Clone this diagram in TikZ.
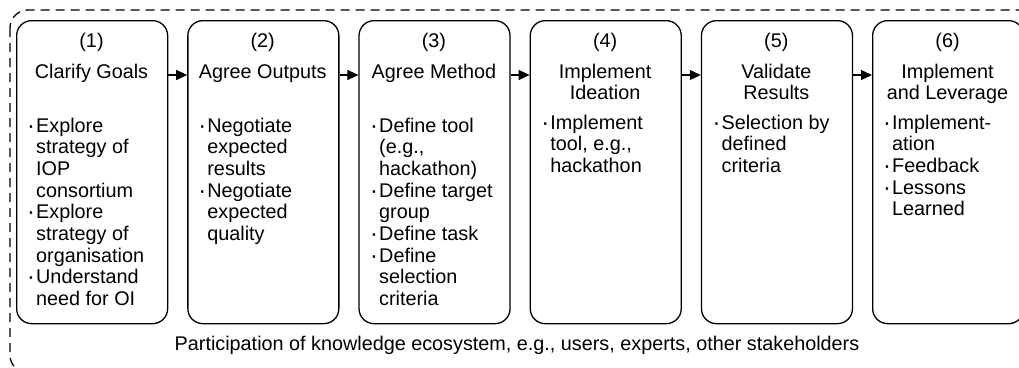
\documentclass[tikz,border=0pt]{standalone}
\usepackage{fontspec}
\setmainfont{Liberation Sans}
\usetikzlibrary{arrows.meta}

% bullet and hanging indent for the item lists
\newcommand{\bul}{\makebox[9pt][l]{\raisebox{-1pt}{\scalebox{1.2}{·}}}}
\newcommand{\ind}{\hspace*{9pt}}
\newcommand{\cellstack}[2][l]{\begin{tabular}[t]{@{}#1@{}}#2\end{tabular}}

\begin{document}
\begin{tikzpicture}[
    x=1pt, y=-1pt,
    stage/.style={draw, line width=1.3pt, rounded corners=15pt,
        minimum width=151pt, minimum height=303pt, anchor=north west, inner sep=0pt},
    txt/.style={inner sep=0pt, font=\fontsize{19.8pt}{21.7pt}\selectfont},
    head/.style={txt, anchor=base},
    list/.style={txt, anchor=base west},
    flow/.style={-{Triangle[length=11pt,width=10pt]}, line width=1.1pt}
]
\useasboundingbox (0,0) rectangle (1019,367);
\clip (0,0) rectangle (1019,367);

% Ecosystem frame
\draw[dashed, dash pattern=on 9pt off 6pt, line width=1.3pt, rounded corners=18pt]
    (10,10) rectangle (1045,373);

% Stage boxes
\foreach \i/\x in {1/16,2/187.2,3/358.4,4/529.6,5/700.8,6/872}
    \node[stage] (s\i) at (\x,20) {};

% Arrows between stages
\foreach \a/\b in {1/2,2/3,3/4,4/5,5/6}
    \draw[flow] (s\a.east |- 0,75) -- (s\b.west |- 0,75);

% Stage 1
\node[head] (num1) at (91.5,47) {(1)};
\node[head] (head1) at (91.5,78) {Clarify Goals};
\node[list] (list1) at (27,132) {\cellstack{\bul Explore\\ \ind strategy of\\ \ind IOP\\ \ind consortium\\
    \bul Explore\\ \ind strategy of\\ \ind organisation\\ \bul Understand\\ \ind need for OI}};

% Stage 2
\node[head] (num2) at (262.7,47) {(2)};
\node[head] (head2) at (262.7,78) {Agree Outputs};
\node[list] (list2) at (198.2,132) {\cellstack{\bul Negotiate\\ \ind expected\\ \ind results\\
    \bul Negotiate\\ \ind expected\\ \ind quality}};

% Stage 3
\node[head] (num3) at (433.9,47) {(3)};
\node[head] (head3) at (433.9,78) {Agree Method};
\node[list] (list3) at (370,132) {\cellstack{\bul Define tool\\ \ind (e.g.,\\ \ind hackathon)\\
    \bul Define target\\ \ind group\\ \bul Define task\\ \bul Define\\ \ind selection\\ \ind criteria}};

% Stage 4
\node[head] (num4) at (605.1,47) {(4)};
\node[head] (head4) at (605.1,78) {\cellstack[c]{Implement\\ Ideation}};
\node[list] (list4) at (541.2,129) {\cellstack{\bul Implement\\ \ind tool, e.g.,\\ \ind hackathon}};

% Stage 5
\node[head] (num5) at (776.3,47) {(5)};
\node[head] (head5) at (776.3,78) {\cellstack[c]{Validate\\ Results}};
\node[list] (list5) at (712.4,129) {\cellstack{\bul Selection by\\ \ind defined\\ \ind criteria}};

% Stage 6
\node[head] (num6) at (947.5,47) {(6)};
\node[head] (head6) at (947.5,78) {\cellstack[c]{Implement\\ and Leverage}};
\node[list] (list6) at (883,129) {\cellstack{\bul Implement-\\ \ind ation\\ \bul Feedback\\
    \bul Lessons\\ \ind Learned}};

% Participation line
\node[head] (eco) at (517,350)
    {Participation of knowledge ecosystem, e.g., users, experts, other stakeholders};
\end{tikzpicture}
\end{document}
